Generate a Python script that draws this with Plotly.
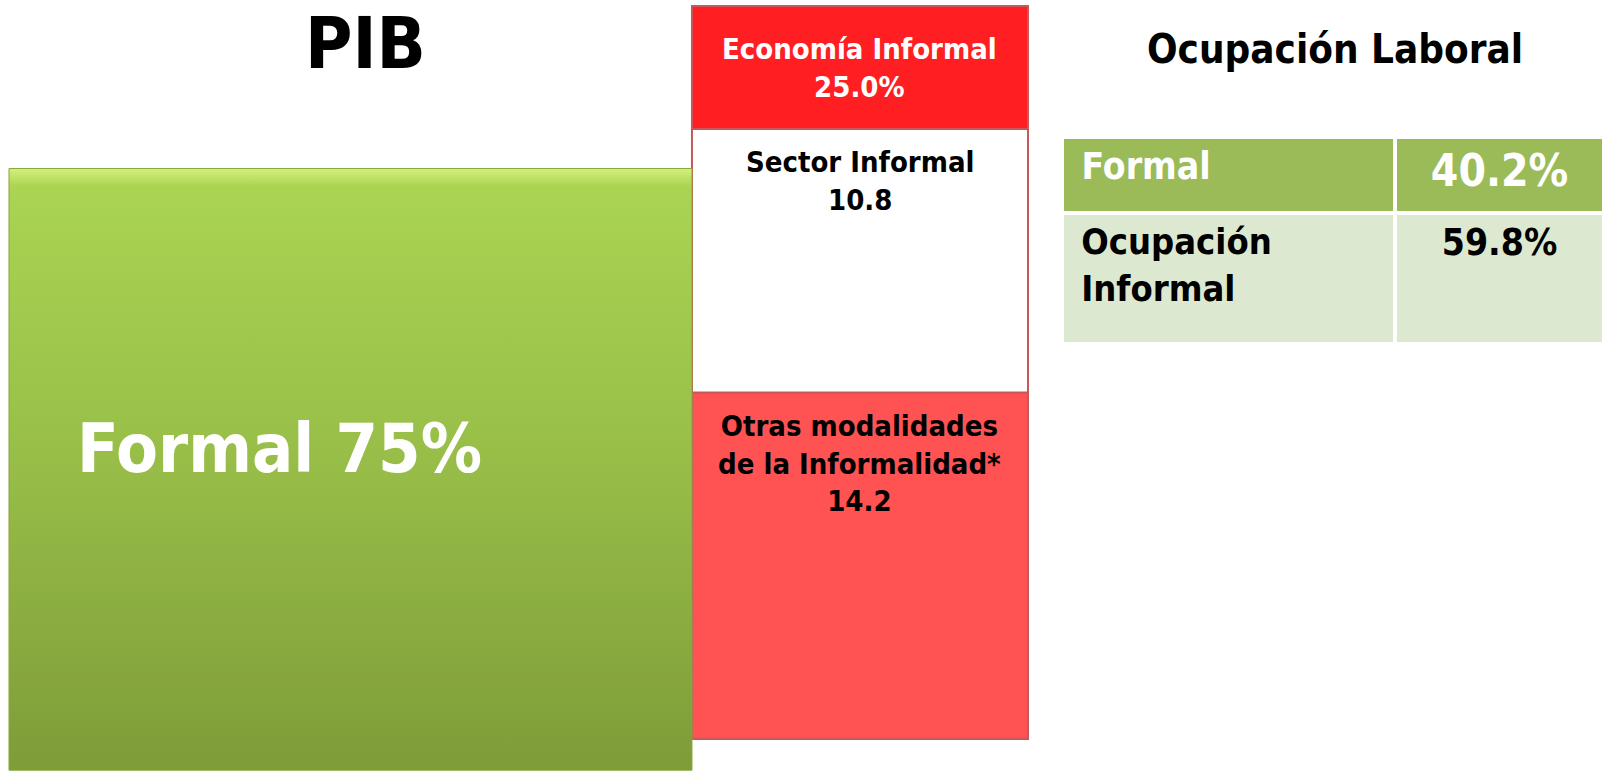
"""PIB formal / informal and ocupación laboral, slide-style chart."""

import numpy as np
import plotly.graph_objects as go

FONT = "Liberation Sans Narrow, DejaVu Sans Condensed, Arial Narrow, sans-serif"

# PIB
pib_labels = ["Formal", "Economía Informal"]
pib_shares = [75, 25.0]

# breakdown of the informal economy (bottom to top)
informal_labels = ["Otras modalidades<br>de la Informalidad*", "Sector Informal"]
informal_values = [14.2, 10.8]
informal_colors = ["#ff5252", "#ffffff"]
informal_text_colors = ["#000000", "#000000"]

# Ocupación laboral
ocup_labels = ["Formal", "Ocupación<br>Informal"]
ocup_shares = [40.2, 59.8]

W, H = 1604, 771
GREEN_W = 1.3405
RED_W = 0.6595
HEADER_H = 5.04

xpos = np.arange(len(pib_labels))
fig = go.Figure()

# green block (formal PIB) with vertical gradient
c, v = xpos[0], pib_shares[0]
fig.add_trace(
    go.Scatter(
        x=[c - GREEN_W / 2, c + GREEN_W / 2, c + GREEN_W / 2, c - GREEN_W / 2, c - GREEN_W / 2],
        y=[0, 0, v, v, 0],
        mode="lines",
        fill="toself",
        fillgradient=dict(
            type="vertical",
            colorscale=[[0, "#7e9c38"], [0.5, "#97bd48"], [0.97, "#aad452"], [1, "#d4ef7c"]],
        ),
        line=dict(color="#86a83c", width=1),
        yaxis="y2",
        hoverinfo="skip",
        showlegend=False,
    )
)

# informal stack
bases = np.concatenate([[0], np.cumsum(informal_values)[:-1]])
for lab, val, base, col in zip(informal_labels, informal_values, bases, informal_colors):
    fig.add_trace(
        go.Bar(
            x=[xpos[1]],
            y=[val],
            base=[base],
            width=RED_W,
            marker=dict(color=col, line=dict(color="#c9575a", width=2)),
            name=lab,
            showlegend=False,
        )
    )

# header block "Economía Informal"
total_inf = float(np.sum(informal_values))
fig.add_trace(
    go.Bar(
        x=[xpos[1]],
        y=[HEADER_H],
        base=[total_inf],
        width=RED_W,
        marker=dict(color="#ff1f22", line=dict(color="#c9575a", width=2)),
        showlegend=False,
        hoverinfo="skip",
    )
)

annotations = [
    dict(text="<b>PIB</b>", x=0.228, y=0.944, xref="paper", yref="paper",
         xanchor="center", yanchor="middle", showarrow=False,
         font=dict(size=72, color="black")),
    dict(text="<b>Ocupación Laboral</b>", x=0.832, y=0.936, xref="paper", yref="paper",
         xanchor="center", yanchor="middle", showarrow=False,
         font=dict(size=40, color="black")),
    dict(text=f"<b>{pib_labels[0]} {pib_shares[0]:.0f}%</b>", x=c - GREEN_W / 2, y=0.418,
         xref="x", yref="paper", xanchor="left", yanchor="middle", xshift=66,
         showarrow=False, font=dict(size=68, color="white")),
    dict(text=f"<b>{pib_labels[1]}<br>{pib_shares[1]:.1f}%</b>", x=xpos[1],
         y=total_inf + HEADER_H / 2, xref="x", yref="y", yanchor="middle",
         showarrow=False, font=dict(size=29, color="white")),
]
for lab, val, base, tc in zip(informal_labels, informal_values, bases, informal_text_colors):
    annotations.append(
        dict(text=f"<b>{lab}<br>{val}</b>", x=xpos[1], y=base + val, xref="x", yref="y",
             yanchor="top", yshift=-14, showarrow=False, font=dict(size=29, color=tc))
    )


def indent(s):
    return "<br>".join("\u00a0" + part for part in s.split("<br>"))


# table for ocupación laboral
fig.add_trace(
    go.Table(
        domain=dict(x=[1062 / W, 1.0], y=[0.5, 1 - 137 / H]),
        columnwidth=[333, 209],
        header=dict(
            values=[f"<b>{indent(ocup_labels[0])}</b>", f"<b>{ocup_shares[0]}%</b>"],
            fill_color="#9bbb59",
            line=dict(color="white", width=4),
            align=["left", "center"],
            font=dict(family=FONT, size=[37, 44], color="white"),
            height=76,
        ),
        cells=dict(
            values=[[f"<b>{indent(ocup_labels[1])}</b>"], [f"<b>{ocup_shares[1]}%</b>"]],
            fill_color="#dde8d0",
            line=dict(color="white", width=4),
            align=["left", "center"],
            font=dict(family=FONT, size=[36, 37], color="black"),
            height=131,
        ),
    )
)

fig.update_layout(
    width=W,
    height=H,
    margin=dict(l=0, r=0, t=0, b=0),
    paper_bgcolor="white",
    plot_bgcolor="white",
    font=dict(family=FONT),
    barmode="overlay",
    showlegend=False,
    annotations=annotations,
    xaxis=dict(range=[-0.6879, 2.4603], visible=False, fixedrange=True),
    yaxis=dict(range=[-1.3115, 30.287], visible=False, fixedrange=True),
    yaxis2=dict(range=[-0.1, 96], overlaying="y", visible=False, fixedrange=True),
)

fig.write_html(
    "out.html",
    config={"displayModeBar": False},
    post_script="document.body.style.margin='0px';",
)
